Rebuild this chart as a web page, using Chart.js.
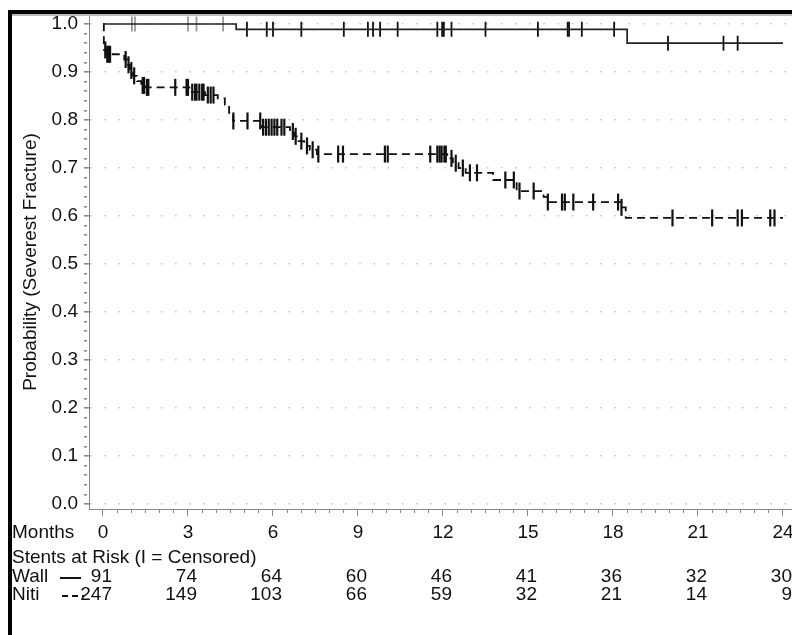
<!DOCTYPE html>
<html>
<head>
<meta charset="utf-8">
<script src="https://cdn.jsdelivr.net/npm/chart.js@4.4.0/dist/chart.umd.min.js"></script>
<style>
    html, body { margin: 0; padding: 0; background: #fff; }
    #wrap { position: relative; width: 792px; height: 635px; }
</style>
</head>
<body>
<div id="wrap"><canvas id="km" width="792" height="635"></canvas></div>
<script>
// ========================================
// Kaplan-Meier: fracture-free probability by stent type
// ========================================

// Wall: step times (months) and probability from that time on
const wallTimes = [0, 4.7, 18.5, 24];
const wallSurv = [1.0, 0.989, 0.96, 0.96];
const wallCensored = [1.02, 1.13, 3.0, 3.3, 4.24, 5.08, 5.78, 6.0, 7.0, 8.5, 9.35, 9.53, 9.78,
    10.4, 11.8, 11.97, 12.03, 12.3, 13.5, 15.35, 16.4, 16.45, 16.9, 18.04, 19.94, 21.9, 22.4];

// Niti
const nitiTimes = [0, 0.03, 0.12, 0.75, 0.85, 0.95, 1.05, 1.2, 1.35, 1.5, 3.05, 3.6, 4.05, 4.3,
    4.45, 4.6, 5.6, 6.6, 6.75, 6.9, 7.1, 7.3, 7.55, 12.15, 12.35, 12.55, 12.8, 13.77, 14.6,
    15.55, 15.7, 18.3, 18.45, 24];
const nitiSurv = [1.0, 0.946, 0.937, 0.926, 0.915, 0.903, 0.892, 0.881, 0.872, 0.868, 0.858,
    0.852, 0.845, 0.832, 0.815, 0.798, 0.785, 0.776, 0.766, 0.756, 0.746, 0.738, 0.729, 0.72,
    0.71, 0.70, 0.69, 0.675, 0.652, 0.64, 0.629, 0.618, 0.596, 0.596];
const nitiCensored = [0.08, 0.15, 0.2, 0.25, 0.8, 0.9, 1.0, 1.1, 1.4, 1.45, 1.55, 1.6, 2.55,
    2.95, 3.0, 3.15, 3.25, 3.3, 3.4, 3.5, 3.55, 3.7, 3.8, 3.9, 4.6, 5.1, 5.55, 5.65, 5.75, 5.85,
    5.95, 6.05, 6.15, 6.3, 6.4, 6.7, 6.8, 7.0, 7.2, 7.4, 7.6, 8.3, 8.47, 9.95, 10.05, 11.55,
    11.8, 11.88, 11.95, 12.05, 12.1, 12.3, 12.45, 12.7, 12.95, 13.2, 14.2, 14.5, 14.7, 15.2,
    15.7, 16.2, 16.3, 16.6, 17.3, 18.18, 18.3, 20.1, 21.5, 22.4, 22.55, 23.55, 23.7];

// axis ticks and the at-risk table
const monthTicks = [0, 3, 6, 9, 12, 15, 18, 21, 24];
const probTicks = [0.0, 0.1, 0.2, 0.3, 0.4, 0.5, 0.6, 0.7, 0.8, 0.9, 1.0];
const wallAtRisk = [91, 74, 64, 60, 46, 41, 36, 32, 30];
const nitiAtRisk = [247, 149, 103, 66, 59, 32, 21, 14, 9];

const FONT = '"Liberation Sans", Arial, sans-serif';
const INK = '#111';

function kmAt(times, surv, t) {
    let s = surv[0];
    for (let i = 0; i < times.length; i++) {
        if (times[i] <= t) s = surv[i];
    }
    return s;
}

const toPoints = (times, surv) => times.map((t, i) => ({ x: t, y: surv[i] }));
const censorPoints = (cens, times, surv) => cens.map(t => ({ x: t, y: kmAt(times, surv, t) }));

const isMonthTick = v => monthTicks.includes(v);
const isProbTick = v => probTicks.some(p => Math.abs(p - v) < 1e-9);

// frame, "Months" row and the at-risk table under the axis
const riskTablePlugin = {
    id: 'riskTable',
    afterDraw(chart) {
        const ctx = chart.ctx;
        const x = chart.scales.x;
        ctx.save();

        ctx.fillStyle = '#000';
        ctx.fillRect(8, 10, 784, 4);
        ctx.fillRect(8, 10, 4, 625);
        ctx.fillStyle = '#bbb';
        ctx.fillRect(12, 14, 780, 2);

        ctx.fillStyle = INK;
        ctx.font = '19px ' + FONT;
        ctx.textBaseline = 'middle';
        ctx.textAlign = 'left';
        ctx.fillText('Months', 12, 533);
        ctx.fillText('Stents at Risk (I = Censored)', 12, 558);
        ctx.fillText('Wall', 12, 577);
        ctx.fillText('Niti', 12, 595);

        // line samples
        ctx.strokeStyle = INK;
        ctx.lineWidth = 2;
        ctx.beginPath();
        ctx.moveTo(60, 578);
        ctx.lineTo(81, 578);
        ctx.stroke();
        ctx.setLineDash([6, 4]);
        ctx.beginPath();
        ctx.moveTo(62, 596);
        ctx.lineTo(84, 596);
        ctx.stroke();
        ctx.setLineDash([]);

        ctx.textAlign = 'right';
        monthTicks.forEach((m, i) => {
            const px = x.getPixelForValue(m) + 9;
            ctx.fillText(String(wallAtRisk[i]), px, 577);
            ctx.fillText(String(nitiAtRisk[i]), px, 595);
        });
        ctx.restore();
    }
};

new Chart(document.getElementById('km'), {
    type: 'line',
    data: {
        datasets: [
            {
                label: 'Wall',
                data: toPoints(wallTimes, wallSurv),
                stepped: true,
                borderColor: '#222',
                borderWidth: 1.7,
                pointRadius: 0,
                fill: false
            },
            {
                label: 'Niti',
                data: toPoints(nitiTimes, nitiSurv),
                stepped: true,
                borderColor: '#111',
                borderWidth: 1.8,
                borderDash: [8, 5],
                pointRadius: 0,
                fill: false
            },
            {
                label: 'Wall censored',
                data: censorPoints(wallCensored, wallTimes, wallSurv),
                showLine: false,
                pointStyle: 'line',
                pointRotation: 90,
                pointRadius: 7.5,
                pointBorderWidth: 1.8,
                pointBorderColor: c => (c.raw && c.raw.y >= 1 ? '#999' : '#111')
            },
            {
                label: 'Niti censored',
                data: censorPoints(nitiCensored, nitiTimes, nitiSurv),
                showLine: false,
                pointStyle: 'line',
                pointRotation: 90,
                pointRadius: 8.5,
                pointBorderWidth: 2.2,
                pointBorderColor: '#111'
            }
        ]
    },
    options: {
        responsive: false,
        animation: false,
        events: [],
        layout: { autoPadding: false, padding: { top: 15, left: 0, right: 0, bottom: 0 } },
        plugins: {
            legend: { display: false },
            tooltip: { enabled: false }
        },
        scales: {
            x: {
                type: 'linear',
                position: 'bottom',
                min: -0.494,
                max: 24.318,
                afterBuildTicks: scale => {
                    const ticks = [];
                    for (let m = 0; m <= 24; m += 0.5) ticks.push({ value: m });
                    scale.ticks = ticks;
                },
                afterFit: scale => {
                    scale.height = 126;
                    scale.paddingLeft = 0;
                    scale.paddingRight = 0;
                },
                border: { display: true, color: '#888', width: 1 },
                grid: {
                    drawOnChartArea: false,
                    tickLength: 7,
                    tickColor: '#888',
                    tickBorderDash: c => (isMonthTick(c.tick.value) ? [] : [3, 20])
                },
                ticks: {
                    autoSkip: false,
                    maxRotation: 0,
                    padding: 5,
                    color: INK,
                    font: { family: FONT, size: 19 },
                    callback: v => (isMonthTick(v) ? String(v) : '')
                }
            },
            y: {
                type: 'linear',
                position: 'left',
                min: -0.010417,
                max: 1.01875,
                afterBuildTicks: scale => {
                    const ticks = [];
                    for (let i = 0; i <= 50; i++) ticks.push({ value: i / 50 });
                    scale.ticks = ticks;
                },
                afterFit: scale => {
                    scale.width = 89;
                    scale.paddingTop = 0;
                    scale.paddingBottom = 0;
                },
                border: { display: true, color: '#888', width: 1, dash: [1.6, 12.57] },
                grid: {
                    drawOnChartArea: true,
                    lineWidth: 1.6,
                    color: c => (isProbTick(c.tick.value) ? '#c4c4c4' : 'rgba(0,0,0,0)'),
                    tickLength: 5,
                    tickColor: '#888',
                    tickBorderDash: c => (isProbTick(c.tick.value) ? [] : [3, 20])
                },
                ticks: {
                    autoSkip: false,
                    padding: 6,
                    color: INK,
                    font: { family: FONT, size: 19 },
                    callback: v => (isProbTick(v) ? v.toFixed(1) : '')
                },
                title: {
                    display: true,
                    text: 'Probability (Severest Fracture)',
                    color: INK,
                    font: { family: FONT, size: 19 },
                    padding: { top: 19, bottom: 0 }
                }
            }
        }
    },
    plugins: [riskTablePlugin]
});
</script>
</body>
</html>
